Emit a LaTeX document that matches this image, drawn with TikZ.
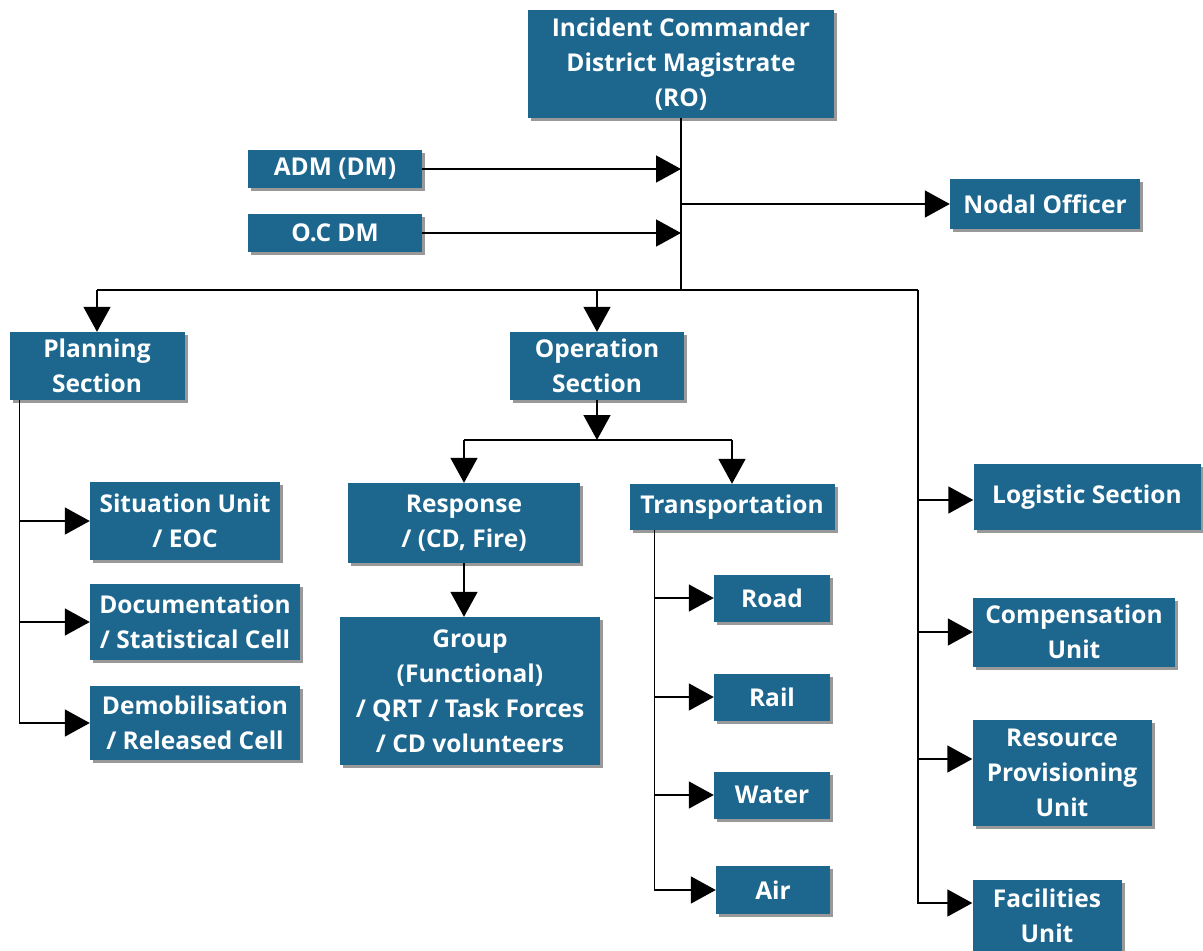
\documentclass[tikz,border=0pt]{standalone}
\usepackage{fontspec}
\setmainfont{Open Sans}
\usetikzlibrary{arrows.meta,shadows}
\definecolor{boxblue}{RGB}{29,103,143}
\tikzset{
	unit/.style={fill=boxblue,text=white,align=center,inner sep=0pt,
		font=\fontsize{24.5}{35}\selectfont\bfseries,
		drop shadow={shadow xshift=3pt,shadow yshift=-3pt,fill=black!40,opacity=1}},
	link/.style={line width=1.6pt},
	linkarrow/.style={link,-{Triangle[length=25pt,width=27pt]}}
}
\begin{document}
\begin{tikzpicture}[x=1pt,y=-1pt]
	\useasboundingbox (0,0) rectangle (1203,951);
	% Top
	\node[unit,minimum width=306,minimum height=108] (ic) at (681,64) {Incident Commander\\District Magistrate\\(RO)};
	\node[unit,minimum width=174,minimum height=38] (adm) at (335,169) {ADM (DM)};
	\node[unit,minimum width=174,minimum height=38] (ocdm) at (335,233) {O.C DM};
	\node[unit,minimum width=190,minimum height=50] (nodal) at (1045,204) {Nodal Officer};
	% Sections
	\node[unit,minimum width=175,minimum height=68] (plan) at (97,366) {Planning\\Section};
	\node[unit,minimum width=174,minimum height=68] (oper) at (597,366) {Operation\\Section};
	% Planning units
	\node[unit,minimum width=190,minimum height=78] (sit) at (185,521) {Situation Unit\\/ EOC};
	\node[unit,minimum width=210,minimum height=76] (doc) at (195,622) {Documentation\\/ Statistical Cell};
	\node[unit,minimum width=210,minimum height=74] (demob) at (195,723) {Demobilisation\\/ Released Cell};
	% Operation units
	\node[unit,minimum width=232,minimum height=80] (resp) at (464,523) {Response\\/ (CD, Fire)};
	\node[unit,minimum width=260,minimum height=148] (grp) at (470,691) {Group\\(Functional)\\/ QRT / Task Forces\\/ CD volunteers};
	\node[unit,minimum width=205,minimum height=46] (trans) at (732,507) {Transportation};
	\node[unit,minimum width=116,minimum height=47] (road) at (772,598) {Road};
	\node[unit,minimum width=116,minimum height=47] (rail) at (772,697) {Rail};
	\node[unit,minimum width=116,minimum height=47] (water) at (772,795) {Water};
	\node[unit,minimum width=114,minimum height=48] (air) at (773,890) {Air};
	% Right column
	\node[unit,minimum width=227,minimum height=66] (logi) at (1087,497) {Logistic Section};
	\node[unit,minimum width=202,minimum height=69] (comp) at (1074,632) {Compensation\\Unit};
	\node[unit,minimum width=179,minimum height=106] (res) at (1062,773) {Resource\\Provisioning\\Unit};
	\node[unit,minimum width=149,minimum height=72] (fac) at (1047,916) {Facilities\\Unit};
	% Bus points
	\coordinate (trunk) at (681,290);
	\coordinate (rbus) at (918,290);
	\coordinate (pbus) at ([xshift=10pt]plan.south west);
	\coordinate (obus) at (597,440);
	\coordinate (tbus) at ([xshift=25pt]trans.south west);
	% Top links
	\draw[link] (ic.south) -- (trunk);
	\draw[linkarrow] (adm.east) -- (adm.east -| ic.south);
	\draw[linkarrow] (ocdm.east) -- (ocdm.east -| ic.south);
	\draw[linkarrow] (nodal.west -| ic.south) -- (nodal.west);
	\draw[link] (plan.north |- trunk) -- (rbus);
	\draw[linkarrow] (plan.north |- trunk) -- (plan.north);
	\draw[linkarrow] (oper.north |- trunk) -- (oper.north);
	% Planning
	\draw[linkarrow] (pbus) |- (sit.west);
	\draw[linkarrow] (pbus) |- (doc.west);
	\draw[linkarrow] (pbus) |- (demob.west);
	% Operation
	\draw[linkarrow] (oper.south) -- (obus);
	\draw[link] (resp.north |- obus) -- (trans.north |- obus);
	\draw[linkarrow] (resp.north |- obus) -- (resp.north);
	\draw[linkarrow] (trans.north |- obus) -- (trans.north);
	\draw[linkarrow] (resp.south) -- (resp.south |- grp.north);
	\draw[linkarrow] (tbus) |- (road.west);
	\draw[linkarrow] (tbus) |- (rail.west);
	\draw[linkarrow] (tbus) |- (water.west);
	\draw[linkarrow] (tbus) |- (air.west);
	% Right column
	\draw[linkarrow] (rbus) |- ([yshift=-3pt]logi.west);
	\draw[linkarrow] (rbus) |- (comp.west);
	\draw[linkarrow] (rbus) |- ([yshift=14pt]res.west);
	\draw[linkarrow] (rbus) |- ([yshift=13pt]fac.west);
\end{tikzpicture}
\end{document}
